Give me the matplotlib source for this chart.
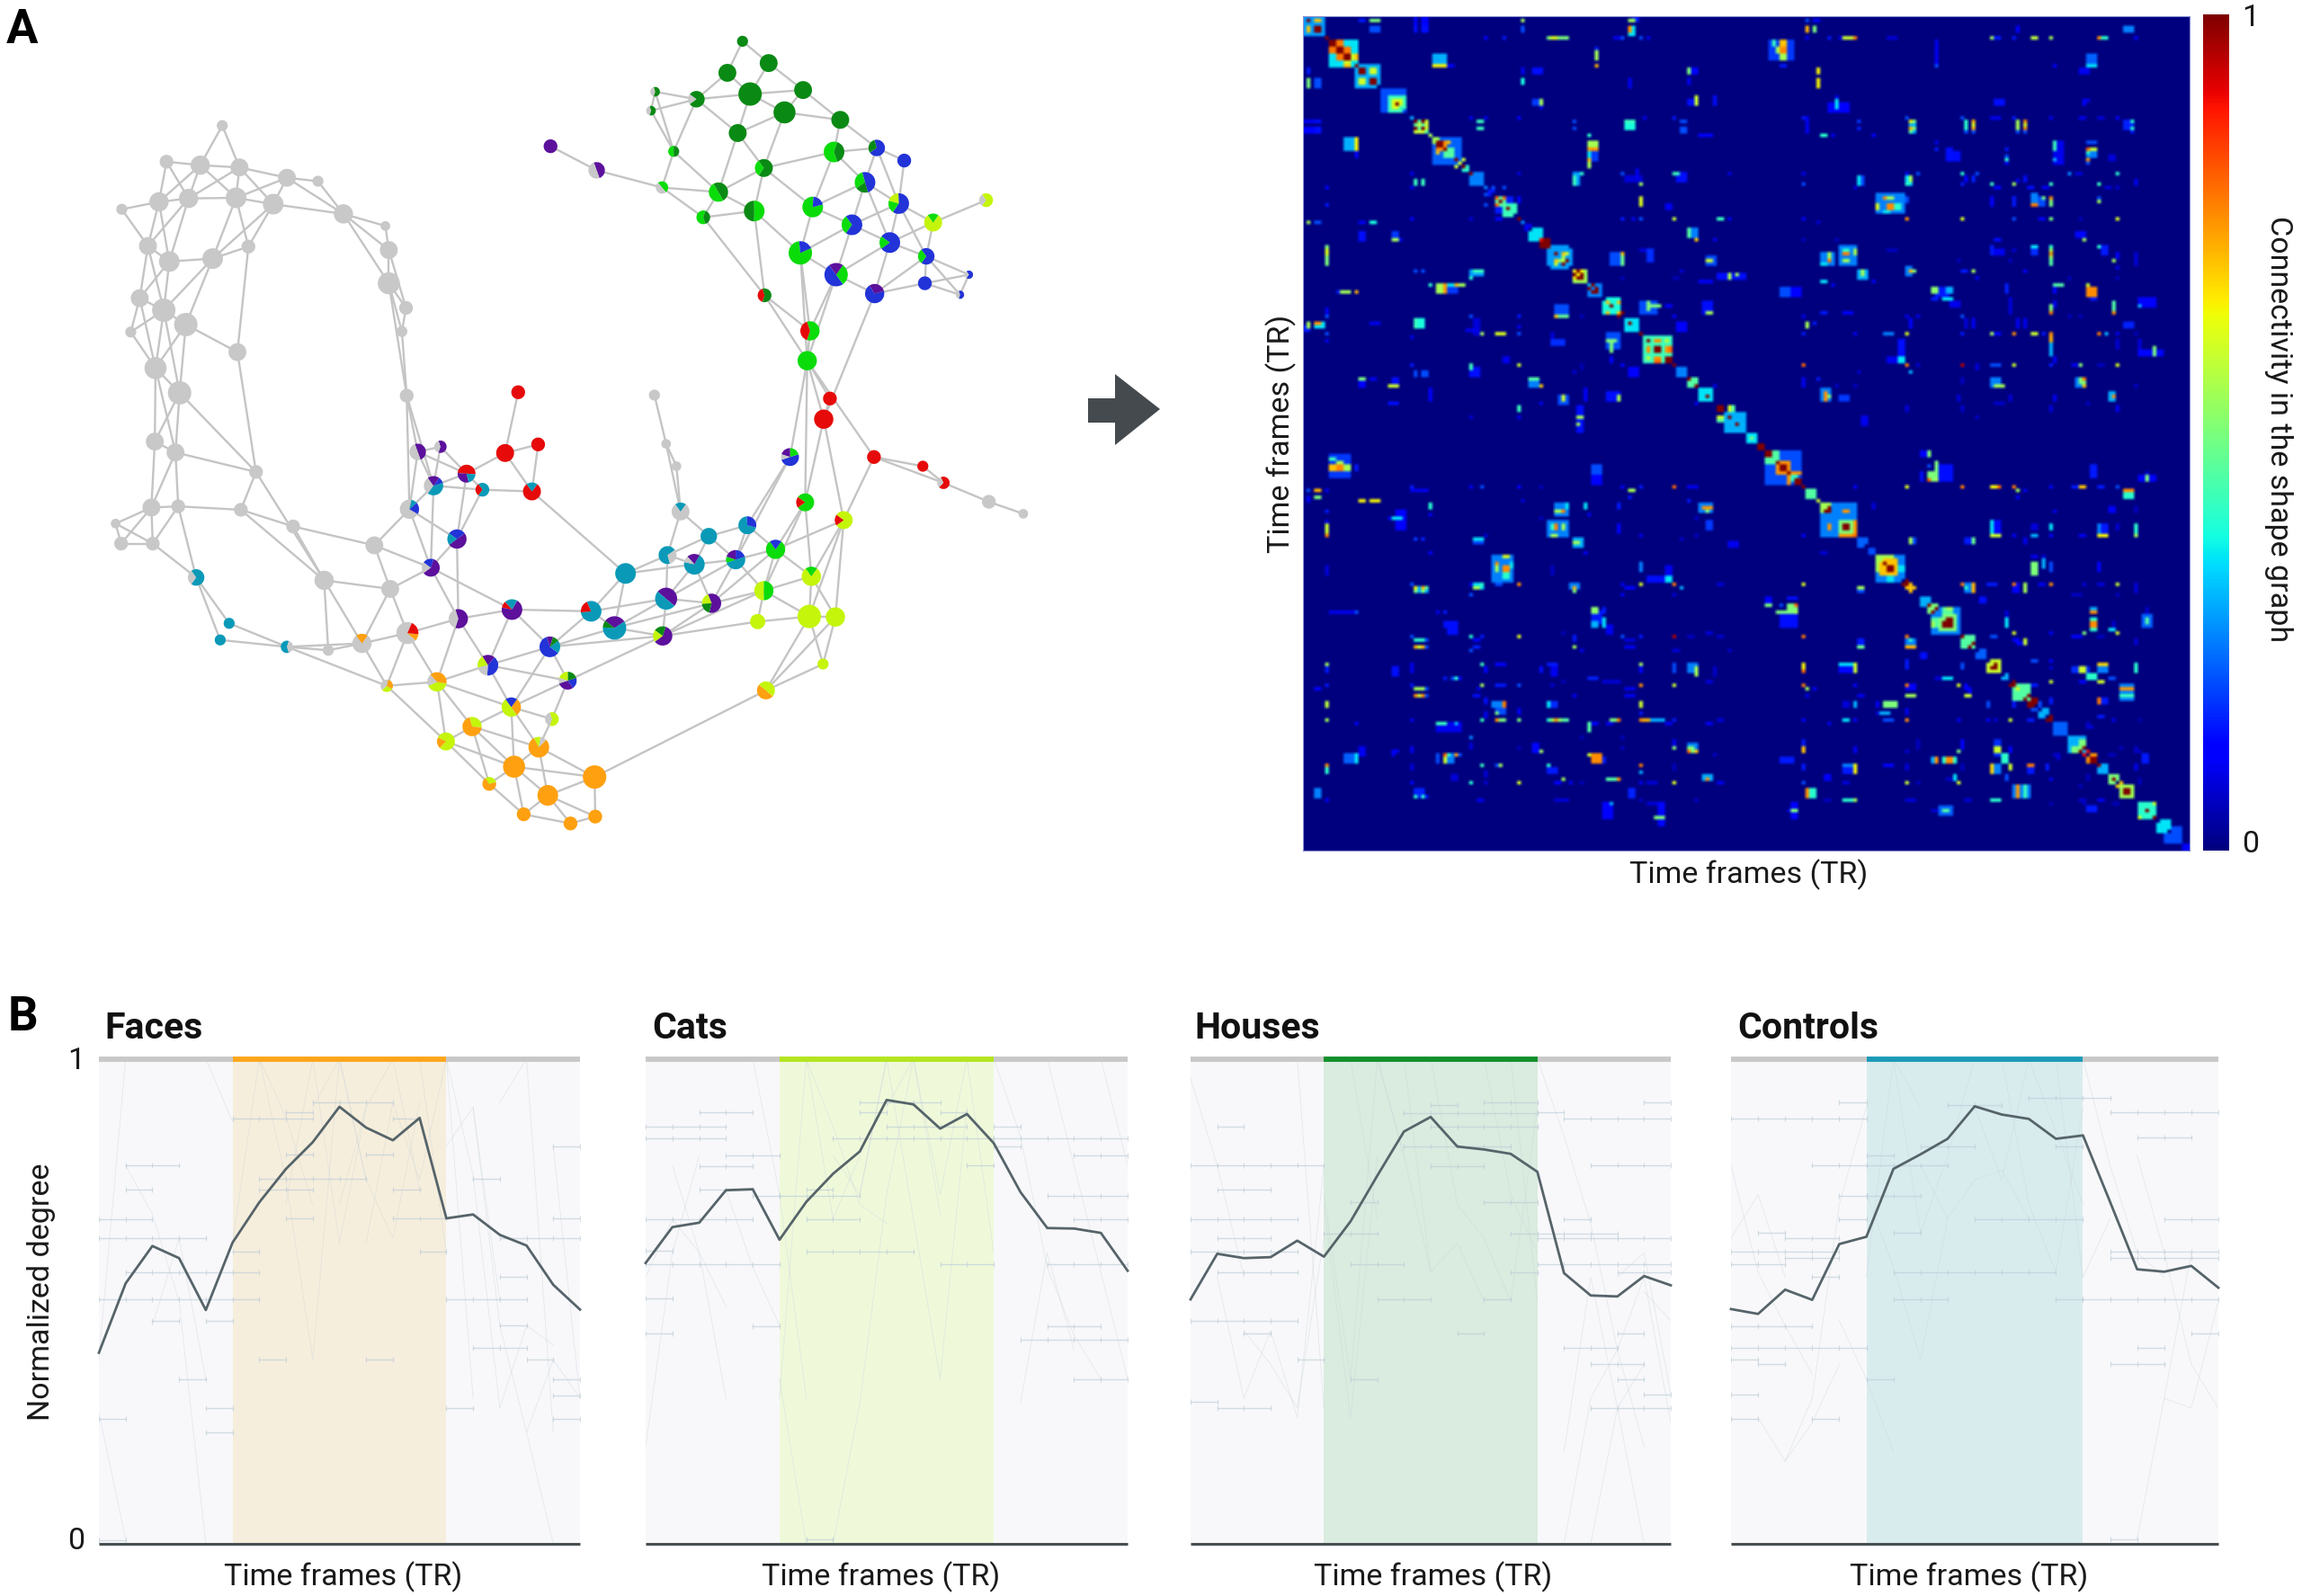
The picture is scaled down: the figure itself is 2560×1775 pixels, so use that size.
import numpy as np
import matplotlib
matplotlib.use('Agg')
import matplotlib.pyplot as plt
from matplotlib.patches import Wedge, Polygon

plt.rcParams['font.family'] = ['Roboto', 'DejaVu Sans']
W, H = 2560, 1775

# ---- shape graph, positions as read in the 1200x1000 crop
node_x = [323,242,291,348,417,462,177,231,274,343,
          397,499,560,215,246,309,361,565,565,203,
          238,270,190,590,584,345,226,261,591,225,
          255,372,220,259,350,168,176,222,426,544,
          471,567,477,285,333,320,417,526,592,562,
          607,640,630,678,701,734,753,782,773,595,
          664,626,666,744,709,799,825,635,743,802,
          686,648,783,747,864,711,796,761,829,865,
          859,893,909,963,968,970,1009,1034,1030,1069,
          1086,989,983,968,951,1127,1110,1179,1101,1176,
          1214,1196,1113,1226,1170,1148,1197,1206,1173,1177,
          1111,1270,1341,1371,1437,1487,1079,1117,1057,1090,
          1167,1140,1012,952,946,1072,1221,979,1212,1274,
          1314,1110,1044,962,867,800,1257,1306,1356,1433,
          1022,1096,1181,1238,1293,1163,1215,1271,1346,1344,
          1408,1395]
node_y = [219,282,288,292,310,316,365,352,346,345,
          356,373,394,429,456,451,430,436,494,520,
          541,566,579,537,578,614,642,685,690,770,
          789,823,885,883,889,913,948,948,918,951,
          1012,1027,1134,1007,1087,1116,1128,1122,1104,1196,
          788,779,847,826,854,790,684,775,857,888,
          940,990,1079,1063,1160,1128,1187,1189,1233,1254,
          1267,1293,1303,1337,1355,1367,1387,1420,1436,1424,
          1066,1095,1000,1109,1044,968,984,1052,935,976,
          916,892,813,774,689,958,1030,1005,1084,1075,
          1076,1158,1204,907,876,797,731,695,629,577,
          515,797,813,842,875,896,72,110,127,164,
          157,196,173,160,193,232,209,264,265,258,
          280,293,335,327,297,255,318,355,388,349,
          379,368,361,392,423,441,479,512,447,494,
          479,514]
node_r = [8,10,14,13,13,8,8,14,14,15,
          15,14,7,13,15,15,10,13,16,13,
          17,17,8,10,8,13,16,17,10,13,
          13,10,13,10,10,7,10,10,10,13,
          14,13,8,12,8,8,9,14,16,9,
          12,9,14,13,10,13,10,10,13,14,
          14,13,14,15,15,15,13,14,14,10,
          14,13,15,16,17,10,15,10,10,10,
          15,17,15,14,16,13,15,14,12,14,
          13,13,7,7,8,14,14,14,11,17,
          14,8,13,13,13,13,14,10,14,14,
          10,10,8,9,10,7,8,13,13,17,
          13,16,12,7,7,13,13,8,15,12,
          10,13,14,9,12,10,15,15,13,10,
          10,15,15,15,15,17,17,14,12,10,
          6,6]
node_pie = ['g9'] * 43 + [
    't7 g3','t9','t9','t6 g4','g8 o2','g7 o1 r2','y3 o3 g4',
    'p5 g5','p6 g4','g3 t4 b1 p2','r5 p3 t2','t7 r3','r9','r9','r9','r8 t2','g7 b2 t1',
    'p5 b3 t2','p6 b2 g2','p6 g4','p7 t2 r1','b4 p2 y2 g2','b6 t2 D1 p1','p3 b2 D2 y2 g1','y4 o4 g2','y5 o3 b2','y6 g4',
    'o7 y3','y8 o2','o8 g1 y1','o9','o9','o7 y3','o9','o9','o9','o9',
    't8 r2','t6 p3 D1','t9','p6 D2 y2','t5 p5','t7 g3','t7 p2 g1','p6 y2 D2','t9','t5 b2 p2 L1',
    't7 b3','g8 t2','g9','g9','g9','L8 b2','y5 L5','y8 L2','y9','y9',
    'y9','y9','o5 y5','y8 r2','L8 r2','b5 L2 p2 g1','r9','r9','L9','L6 r4',
    'D6 r4','r9','r9','r7 g3','g9','g9','D9','D9','D9','D9',
    'D9','D9','D8 g2','D6 g4','D6 g4','D9','D9','L5 D5','L6 D4','b7 D3',
    'b9','D7 L3','L5 D5','L5 g5','p5 g5','p9','b5 L3 D2','b6 y2 L2','y8 L2','y7 g3',
    'L6 D4','D5 L5','L8 b2','b7 L3','b8 L2','L8 b2','b5 L3 p2','b7 p3','b7 L3','b9',
    'b7 g3','b6 g4']
# where the last slice of a mixed node points, degrees, up is 90
pie_face = {43:180,46:0,47:90,48:30,49:150,50:200,51:180,53:320,54:180,58:90,59:60,60:180,61:180,62:180,63:150,
    64:230,65:90,66:180,67:170,68:90,69:180,70:50,71:190,72:100,75:70,80:150,81:160,83:180,84:50,85:340,86:150,87:220,
    89:180,90:40,91:90,95:90,96:0,97:90,102:50,103:180,104:180,105:180,109:180,110:180,113:170,122:180,123:180,124:180,
    127:0,128:0,129:160,131:180,132:30,133:220,134:200,136:250,137:200,138:90,139:180,140:0,141:0,142:50,143:180,144:180,
    145:60,146:90,147:70,148:180,150:180,151:180}
pie_colors = {'g':'#c8c8c8','D':'#0a8a14','L':'#0adc0a','b':'#2233d8','p':'#5c109c',
              'r':'#e60a0a','t':'#0a9ab8','o':'#ffa010','y':'#c4f50a'}

edges_gray = [(0,2),(0,3),(1,2),(1,7),(1,8),(2,3),(2,7),(2,8),(2,9),(3,4),(3,8),(3,9),(3,10),(4,5),(4,9),(4,10),
    (5,11),(4,11),(6,7),(6,13),(7,8),(7,13),(7,14),(8,9),(8,13),(8,14),(9,10),(9,15),(9,16),(10,11),(10,16),(10,15),
    (11,12),(11,17),(11,18),(12,17),(13,14),(13,19),(13,20),(14,15),(14,19),(14,20),(15,16),(15,20),(15,21),(16,25),
    (17,18),(17,23),(18,23),(18,24),(19,20),(19,22),(19,26),(20,21),(20,22),(20,26),(20,27),(21,25),(21,26),(21,27),
    (22,26),(23,24),(24,28),(18,28),(25,31),(26,27),(26,29),(26,30),(27,29),(27,30),(27,31),(29,30),(29,32),(30,32),
    (30,33),(30,31),(31,34),(31,40),(32,33),(32,35),(32,36),(32,37),(33,34),(33,37),(33,43),(34,38),(34,40),(35,36),
    (35,37),(36,37),(37,43),(38,39),(38,40),(39,41),(39,59),(40,41),(40,42),(40,47),(41,47),(41,48),(41,61),(39,61),
    (28,50),(28,59),(28,52),(43,44),(43,45),(44,46),(45,46),(46,42),(46,47),(46,49),(42,47),(47,48),(47,49),(48,62),
    (48,67),(48,49),(49,67),(49,71)]
edges_purple = [(50,51),(50,52),(50,53),(51,53),(51,52),(50,59),(52,53),(52,54),(52,59),(52,61),(53,54),(53,55),(53,60),
    (54,58),(55,56),(55,57),(55,58),(57,58),(54,60),(58,82),(59,60),(59,61),(60,61),(60,62),(61,62),(61,63),(62,63),
    (62,64),(63,64),(63,65),(63,80),(64,65),(64,67),(64,68),(64,66),(65,66),(65,68),(65,80),(65,81),(65,83),(62,67),
    (66,83),(66,68),(66,69),(67,68),(67,70),(67,71),(68,70),(68,69),(68,73),(68,72),(69,72),(70,71),(70,72),(70,73),
    (70,75),(71,75),(71,73),(72,73),(72,74),(72,76),(73,74),(73,75),(73,76),(73,77),(74,76),(74,79),(74,102),(75,77),
    (76,77),(76,78),(76,79),(77,78),(78,79)]
edges_teal = [(80,81),(80,82),(80,84),(81,82),(81,84),(81,83),(81,87),(82,85),(82,86),(83,84),(83,87),(84,86),(84,87),
    (84,85),(85,86),(85,88),(85,91),(86,87),(86,88),(86,89),(87,89),(87,96),(87,95),(88,90),(88,89),(88,91),(89,90),
    (89,95),(89,96),(90,95),(90,105),(91,92),(92,93),(93,94),(91,93),(83,98),(83,96),(84,89),(89,105),(95,96),(95,97),
    (95,104),(95,103),(96,97),(96,98),(96,99),(96,104),(97,99),(97,100),(97,103),(98,99),(99,100),(99,101),(99,102),
    (100,101),(100,102),(100,103),(101,102),(99,103),(97,104),(104,106),(103,106),(103,111),(105,108),(106,108),
    (106,107),(104,108),(147,106),(107,108),(108,109),(108,110),(108,145),(109,110),(109,145),(109,146),(108,146),
    (110,140),(110,141),(108,111),(111,112),(111,113),(112,113),(113,114),(114,115)]
edges_green = [(116,117),(116,118),(117,119),(117,120),(118,119),(118,122),(119,120),(119,121),(119,122),(119,125),
    (120,121),(120,126),(121,125),(121,126),(121,131),(122,123),(122,124),(122,125),(122,127),(123,124),(123,127),
    (124,127),(125,131),(125,132),(126,128),(126,129),(127,133),(127,132),(128,129),(128,131),(128,136),(128,142),
    (129,130),(129,136),(129,137),(130,137),(131,132),(131,141),(131,142),(132,133),(132,140),(132,141),(133,134),
    (133,140),(134,135),(136,137),(136,142),(136,143),(136,144),(137,138),(137,143),(137,144),(137,148),(138,139),
    (138,144),(138,148),(140,141),(141,145),(142,143),(142,145),(143,144),(143,145),(143,146),(144,146),(144,147),
    (144,148),(145,146),(146,147),(147,148),(147,149),(148,149),(148,150),(148,151),(149,150),(149,151),(150,151)]

# ---- connectivity matrix, (x, y, w, h, value) as read in 3x crops, upper triangle only
N_TR = 240
hm_tl = [(46,46,72,68,.28),(32,30,12,12,1),(63,58,24,24,1),(32,58,12,24,.7),(63,30,24,12,.7),(94,87,12,12,1),
    (148,138,96,92,.35),(112,103,24,24,1),(136,127,24,24,1),(160,150,24,24,1),(136,103,24,24,.78),(112,127,24,24,.78),
    (160,127,24,24,.75),(136,150,24,24,.78),(184,150,12,24,.6),(160,175,24,12,.7),(190,180,10,10,1),(208,195,24,24,1),
    (235,212,72,72,.3),(246,195,24,24,.6),(208,230,24,24,.6),(246,230,24,24,1),
    (315,298,85,85,.2),(325,308,50,50,.42),(325,308,24,24,.62),(325,305,12,12,1),(378,358,10,10,.3),
    (405,380,50,46,.45),(388,362,12,12,1),(412,362,12,12,1),(388,385,12,12,1),(412,385,12,12,1),(400,374,12,12,.6),
    (400,396,12,12,.6),(388,398,12,12,.6),(412,398,12,12,.6),(435,408,12,12,.55),
    (490,465,100,100,.22),(468,437,24,24,1),(490,437,22,12,.7),(455,425,24,10,.55),(468,460,24,12,.75),(484,453,12,12,1),
    (505,470,24,24,.45),(521,490,12,12,1),(545,513,12,12,1),(533,502,12,12,.6),(521,513,12,12,.6),(545,490,12,12,.6),
    (550,525,24,10,.4),(569,535,12,12,1),(598,555,30,40,.25),(618,580,10,10,.25),(638,598,20,20,.15),(650,580,10,10,.2),
    (680,580,10,10,.2),(669,628,40,36,.45),(657,616,12,12,.8),(680,616,12,12,.8),(669,628,12,12,1),(657,640,12,12,.8),
    (692,652,12,12,1),(705,660,36,36,.42),(690,640,60,60,.15),(728,685,12,12,1),(742,697,10,10,.25),(760,713,20,20,.12),
    (790,742,36,36,.35),(802,755,12,12,.9),(820,772,24,24,1),(870,818,70,70,.28),(862,812,12,12,1),(886,812,12,12,.7),
    (875,824,12,12,.55),(886,836,12,12,1),(862,836,12,12,.6),(932,877,48,46,.55),(932,877,36,36,.65),(925,870,12,12,1),
    (937,882,12,12,1),(962,905,10,10,.3),(975,915,10,10,1),(992,932,48,44,.25),(992,932,24,24,1),
    (1048,985,60,58,.38),(1047,985,12,12,1),(1030,968,12,12,.7),(1065,968,12,12,.7),(1030,1002,12,12,.7),(1065,1002,12,12,.7),
    (1072,1008,10,10,1),(1113,1042,48,46,.35),(1107,1041,12,12,1),(1143,1076,10,10,1),
    (1200,1128,100,92,.42),(1198,1128,24,24,1),(1168,1098,12,12,1),(1238,1162,24,24,1),(1168,1160,12,12,.6),
    (1198,1098,24,12,.75),(1198,1162,24,12,.8),(1168,1128,12,12,.75),(1238,1128,24,24,.75),(1253,1180,12,12,1),(1275,1198,30,30,.25),
    (1315,1238,36,36,.45),(1303,1226,12,12,1),(1327,1250,12,12,1),(1360,1280,48,46,.35),(1366,1282,12,12,1),
    (1408,1322,24,24,1),(1408,1350,24,12,.6),(1436,1326,24,24,.45),(1455,1370,72,60,.3),(1437,1350,12,12,1),(1462,1374,12,12,1),
    # off diagonal
    (250,28,34,12,.5),(252,57,36,22,.2),(210,28,24,6,.15),(388,30,12,30,.12),(418,30,24,30,.12),(388,60,12,30,.14),(418,60,24,30,.14),
    (740,30,10,16,.55),(740,57,10,24,.2),(1107,28,24,12,.55),(1107,60,30,34,.35),(1107,60,12,24,.75),(1120,20,30,20,.15),
    (620,87,12,12,.12),(680,87,12,12,.15),(865,87,70,12,.5),(850,87,30,12,.62),(890,87,24,12,.22),(1055,87,24,6,.1),(1073,87,12,12,.2),
    (1145,87,12,12,.2),(1170,87,12,6,.1),(467,155,48,40,.3),(467,178,48,12,.65),(510,178,24,6,.12),(992,150,24,36,.55),(992,125,24,24,.15),
    (992,178,24,12,.72),(740,195,8,24,.1),(740,232,12,24,.38),(790,195,36,24,.14),(1107,235,10,30,.1),(1303,195,12,24,.5),(1320,195,24,24,.12),
    (1303,230,8,24,.1),(790,298,36,24,.18),(802,298,12,24,.55),(802,320,8,12,.1),(1328,298,12,36,.6),(1303,300,24,24,.14),(1390,300,14,36,.14),
    (600,362,24,12,.42),(600,385,24,12,.42),(575,350,10,6,.1),(620,350,10,6,.1),(728,350,12,10,.12),(920,362,20,12,.2),(920,385,20,12,.2),
    (1108,362,36,12,.42),(1108,385,36,24,.38),(1145,350,10,10,.1),(1255,350,12,12,.15),(1280,362,20,12,.2),(1280,390,20,24,.2),(962,408,12,12,.4),
    (985,440,36,24,.55),(985,455,36,12,.75),(972,470,12,24,.35),(985,480,36,30,.18),(972,490,12,12,.72),(972,510,12,24,.55),(1355,408,48,6,.12),
    (1083,535,12,12,.2),(1115,555,50,30,.08),(1130,540,12,30,.1),(922,555,24,50,.28),(922,558,12,36,.42),(948,535,12,12,.4),(1260,535,24,12,.42),
    (1275,555,30,36,.14),(730,535,12,8,.08),(1437,535,12,6,.08),(1145,580,12,12,.55),(1145,628,12,36,.62),(730,625,10,30,.12),(1237,655,24,24,.1),
    (1083,685,12,12,.15),(1108,695,10,10,.1),(1145,685,12,12,.2),(1255,685,12,12,.6),(1408,685,24,12,.42),(1440,685,10,6,.1),(1315,742,36,36,.25),
    (1303,742,12,36,.45),(1327,755,12,12,.7),(1390,755,10,10,.1),(1055,822,36,50,.2),(1072,822,12,50,.48),(1072,812,6,12,.7),(1165,812,24,36,.17),
    (1150,790,24,8,.08),(1370,830,40,40,.2),(1370,832,24,12,.6),(1275,865,20,20,.08),(1440,878,90,24,.14),(1437,880,12,24,.55),(1462,880,12,12,.55),
    (1260,890,24,6,.05),(1360,902,48,6,.12),(1072,890,8,8,.06),(1165,985,72,48,.2),(1168,985,12,36,.5),(1188,985,48,12,.5),(1237,985,24,12,.12),
    (1365,990,36,48,.14),(1365,1007,24,12,.55),(1255,1020,12,12,.12),(1278,1050,36,36,.12),(1388,1250,10,10,.1)]
hm_tr = [(208,30,10,12,.2),(208,57,12,24,.72),(233,57,12,24,.5),(240,28,24,12,.12),(205,86,8,8,.1),(283,86,12,10,.15),(345,86,48,10,.6),
    (368,86,10,10,.78),(318,86,10,6,.1),(490,86,36,6,.08),(125,125,85,70,.18),(100,105,12,24,.42),(125,105,24,24,.7),(130,127,24,24,.76),
    (130,150,24,24,.55),(110,127,12,24,.55),(130,175,24,12,.15),(637,135,8,75,.1),(637,178,12,12,.2),(905,60,8,30,.12),(820,86,12,12,.55),
    (845,86,24,8,.15),(895,86,12,10,.15),(962,86,24,10,.58),(1028,86,12,12,.55),(1188,86,12,12,.76),(1205,86,24,10,.4),(1280,60,30,30,.25),
    (1310,86,12,12,.12),(1162,160,36,36,.22),(1162,178,36,10,.35),(1130,195,36,24,.1),(1040,178,12,12,.12),(246,195,12,24,.65),(246,233,12,36,.65),
    (308,312,12,36,.35),(312,315,70,36,.12),(308,290,8,12,.1),(845,300,36,24,.14),(1138,300,12,24,.12),(1138,290,6,8,.1),(197,350,12,12,.15),
    (208,378,12,48,.1),(380,362,20,12,.18),(380,385,20,12,.16),(557,380,24,46,.3),(552,362,12,12,.65),(552,385,12,12,.72),(565,362,12,12,.5),
    (565,385,12,12,.5),(540,350,12,12,.2),(552,398,12,10,.45),(722,350,12,12,.2),(737,373,12,36,.4),(760,373,12,36,.6),(760,362,12,12,.72),
    (760,385,12,12,.72),(737,398,12,10,.2),(760,398,12,10,.2),(833,350,36,8,.1),(895,350,12,12,.15),(907,373,12,36,.55),(942,373,12,36,.6),
    (942,362,12,12,.76),(942,385,12,12,.76),(907,398,12,10,.2),(942,398,12,10,.2),(1017,350,12,12,.1),(1132,350,24,8,.1),(1195,350,24,6,.08),
    (1250,350,12,12,.12),(1278,373,36,36,.16),(1297,362,12,12,.4),(1297,385,12,12,.4),(1297,398,12,10,.15),(265,408,24,12,.4),(290,408,12,6,.1),
    (428,408,12,12,.12),(637,455,12,10,.15),(680,455,24,12,.14),(692,482,48,24,.14),(637,440,6,12,.1),(875,455,12,12,.15),(875,488,24,24,.2),
    (875,488,24,10,.4),(875,510,24,12,.12),(1040,445,12,40,.42),(1040,490,12,12,.3),(1050,470,36,80,.1),(1150,455,12,12,.8),(1165,455,30,12,.6),
    (1162,480,36,24,.25),(1150,470,12,12,.4),(1150,490,12,12,.75),(1150,510,12,12,.2),(1162,435,36,18,.2),(1232,483,24,24,.08),
    (197,535,12,12,.1),(722,535,12,12,.4),(772,535,12,12,.2),(1088,535,12,12,.25),(1120,535,24,6,.08),(1248,535,12,12,.4),(575,535,12,12,.2),
    (540,535,12,8,.1),(388,558,36,36,.2),(380,558,12,36,.35),(553,558,24,36,.35),(550,558,12,24,.55),(737,560,12,24,.12),(760,560,12,24,.16),
    (905,560,6,16,.1),(942,560,12,24,.14),(1300,565,8,24,.1),(197,580,12,12,.2),(540,580,12,12,.4),(722,580,12,12,.15),(820,580,12,12,.42),
    (845,580,24,6,.12),(895,580,12,12,.55),(960,580,24,8,.14),(1017,580,12,12,.42),(1000,580,24,6,.1),(1188,580,12,12,.42),(1210,580,24,6,.08),
    (1248,580,10,8,.08),(368,580,8,8,.08),(485,642,96,68,.25),(480,620,36,12,.55),(465,617,12,10,.76),(483,645,24,24,.76),(442,650,12,12,.62),
    (480,665,24,12,.35),(510,650,24,12,.4),(540,617,12,12,.2),(540,638,12,12,.2),(820,628,10,36,.12),(895,628,10,36,.15),(962,625,24,36,.25),
    (962,638,24,10,.78),(993,628,24,36,.2),(993,617,12,12,.5),(1017,628,12,36,.5),(1017,615,12,10,.76),(1188,617,10,12,.2),(1188,638,12,12,.55),
    (197,685,12,12,.12),(246,697,10,10,.08),(540,685,12,12,.76),(722,685,12,12,.62),(895,685,12,12,.2),(995,685,24,8,.1),(1017,685,12,12,.5),
    (1125,685,10,8,.06),(1248,685,12,12,.62),(197,755,10,10,.06),(308,755,10,10,.06),(845,755,30,8,.14),(1125,742,36,24,.13),(1138,755,12,12,.55),
    (490,788,36,6,.06),(280,825,48,48,.25),(283,815,12,24,.55),(283,835,24,12,.78),(265,845,24,12,.35),(345,815,60,70,.25),(338,810,24,12,.78),
    (338,835,24,12,.55),(338,795,24,12,.4),(368,800,12,24,.55),(392,875,36,36,.3),(392,872,12,24,.55),(265,903,24,12,.35),(290,903,12,6,.1),
    (428,903,12,12,.12),(553,868,24,36,.25),(553,868,12,12,.72),(565,868,12,12,.5),(760,868,12,12,.55),(737,868,24,10,.15),(772,885,12,12,.1),
    (722,860,6,12,.08),(712,833,6,8,.06),(820,800,12,36,.15),(845,805,36,24,.1),(895,788,8,8,.08),(882,833,8,8,.06),(942,868,12,12,.12),
    (962,788,24,12,.35),(962,805,24,24,.17),(1028,788,12,12,.4),(1028,810,12,36,.55),(1028,810,12,12,.75),(1028,833,12,24,.45),(1188,788,12,12,.4),
    (1205,800,24,36,.15),(1237,835,12,12,.55),(1237,815,6,24,.12),(1237,850,8,8,.1),(1308,822,8,50,.08),(1088,890,8,8,.06),(1248,890,8,8,.06),
    (155,935,72,36,.12),(135,935,36,30,.2),(637,932,24,24,.52),(660,935,60,30,.15),(680,932,24,24,.3),(680,960,36,12,.35),(700,975,36,30,.1),
    (637,955,24,12,.15),(875,925,12,36,.16),(880,985,8,60,.08),(905,1040,8,36,.1),(942,1040,12,36,.1),(722,1018,12,12,.2),(737,1040,10,36,.08),
    (760,1040,12,36,.1),(1028,970,8,24,.1),(1028,995,12,36,.5),(1028,1005,12,12,.78),(1050,915,36,12,.45),(1040,932,12,24,.12),(1160,930,36,36,.76),
    (1150,925,12,36,.6),(1165,955,30,12,.15),(1237,990,12,50,.45),(1237,1005,12,12,.76),(1237,965,12,12,.25),(1340,970,60,36,.12),(1322,985,12,12,.3),
    (1285,1040,36,24,.16),(265,1007,24,12,.15),(345,1007,48,8,.12),(197,1018,10,10,.1),(208,1040,12,24,.55),(233,1040,12,12,.15),(553,1040,12,36,.12),
    (540,1018,12,8,.1),(575,1018,12,8,.1),(197,1077,12,12,.15),(368,1077,10,10,.1),(480,1077,36,10,.25),(540,1077,12,12,.62),(722,1077,12,12,.15),
    (820,1077,12,12,.55),(845,1077,24,8,.12),(895,1077,12,12,.76),(962,1077,24,12,.6),(995,1077,12,8,.15),(1017,1077,12,12,.76),(1028,1095,12,24,.72),
    (1028,1125,12,36,.3),(1188,1077,12,12,.78),(1210,1077,12,8,.3),(1248,1077,10,8,.1),(1088,1018,8,8,.06),(1125,1018,8,8,.06),(1310,1077,8,8,.06),
    (520,1125,24,72,.14),(520,1160,24,24,.35),(490,1160,36,24,.1),(1237,1112,8,36,.08),(1322,1112,8,36,.08),(1355,1135,80,30,.13),(1370,1132,12,36,.5),
    (197,1180,12,12,.8),(540,1180,12,12,.78),(553,1203,12,12,.3),(578,1180,8,12,.08),(722,1180,14,14,.95),(772,1185,6,16,.08),(833,1180,36,10,.2),
    (895,1180,12,12,.6),(1017,1180,12,12,.15),(1028,1160,6,16,.1),(1090,1180,8,12,.1),(1125,1180,12,12,.52),(1105,1180,36,6,.1),(1195,1180,24,6,.06),
    (1248,1180,12,12,.62),(380,1195,10,10,.07),(197,1235,8,36,.1),(245,1225,10,10,.15),(840,1235,36,36,.25),(845,1248,36,8,.55),(1125,1235,36,36,.25),
    (1130,1235,24,24,.5),(1138,1225,12,12,.78),(1138,1248,12,12,.7),(308,1248,8,8,.07),(368,1248,8,8,.07),(275,1280,36,48,.25),(270,1282,12,24,.75),
    (280,1285,24,12,.5),(335,1288,36,24,.18),(710,1285,6,24,.08),(722,1232,8,24,.06),(880,1285,8,24,.08),(1028,1290,8,24,.1),(1232,1282,24,36,.3),
    (1237,1282,12,12,.76),(845,1305,36,6,.07),(1138,1305,8,8,.07),(1310,1248,8,8,.07),(540,1322,12,24,.08),(722,1322,10,24,.07),(1017,1322,8,24,.08),
    (1248,1322,12,24,.1),(398,1360,30,36,.1),(772,1352,10,10,.07)]
hm_br = [(22,22,30,30,.35),(22,22,12,12,.5),(57,50,24,24,1),(80,73,24,24,1),(130,120,120,114,.2),(105,85,24,36,.45),(130,120,36,36,.75),(130,120,24,24,1),
    (112,103,12,12,1),(148,138,12,12,1),(178,168,24,24,1),(152,160,24,24,.4),(145,160,12,36,.75),(197,185,12,12,1),(222,208,36,36,.45),(245,230,10,10,.6),
    (270,258,36,36,.55),(275,262,24,12,1),(320,295,110,110,.25),(337,315,48,48,.5),(337,315,24,24,1),(283,315,12,24,.75),(337,265,24,10,.7),(365,320,12,36,.75),
    (337,345,36,10,.75),(368,345,10,10,.8),(392,365,36,30,.22),(428,400,24,24,.2),(485,453,96,90,.25),(483,453,48,48,.7),(483,453,24,24,1),(465,437,12,12,1),
    (445,440,24,48,.55),(480,420,36,24,.55),(520,453,24,24,.35),(483,490,24,24,.3),(543,507,18,18,1),(557,522,12,24,.7),(600,565,36,36,.3),(613,575,12,12,1),
    (630,590,24,24,.5),(637,597,12,12,1),(670,635,96,96,.25),(680,638,48,48,.5),(680,638,24,24,1),(632,638,24,24,.45),(680,597,24,12,.55),(722,680,12,12,1),
    (748,702,36,36,.45),(760,712,12,12,1),(792,742,30,30,.22),(838,788,48,48,.6),(838,788,24,24,1),(875,822,24,24,.3),(895,840,12,12,1),(905,850,12,12,1),
    (925,870,48,48,.45),(912,855,12,12,.62),(945,885,12,12,1),(962,902,24,24,1),(962,925,24,12,.2),(995,945,24,24,.3),(1017,960,24,12,1),(1028,968,12,12,1),
    (1058,995,48,48,.22),(1110,1045,54,60,.3),(1110,1060,36,30,.5),(1128,1058,12,12,1),(1140,1070,12,12,.9),(1165,1095,36,36,.75),(1168,1095,24,24,1),
    (1188,1115,12,12,1),(1200,1125,36,36,.3),(1232,1160,24,24,.5),(1238,1163,12,12,1),(1250,1175,10,10,.7),(1278,1203,48,48,.55),(1278,1203,24,24,1),
    (1345,1265,60,60,.4),(1345,1265,12,12,1),(1370,1290,12,12,1),(1320,1290,12,12,.6),(1400,1315,36,36,.35),(1445,1340,24,24,.2),(1430,1355,70,40,.2),(1473,1385,24,24,.12),
    # off diagonal
    (600,75,24,24,.12),(612,75,12,24,.5),(612,120,12,12,.2),(637,125,12,48,.5),(670,140,60,60,.14),(625,150,36,36,.5),(612,168,12,12,.8),(637,168,12,12,.55),
    (590,150,12,36,.14),(1168,130,24,48,.15),(1345,160,60,24,.12),(1345,160,12,24,.5),(1345,140,6,20,.08),(368,185,12,12,.12),(540,185,12,12,.62),(722,185,12,12,.78),
    (838,185,48,12,.65),(850,185,12,12,.8),(895,185,12,12,.78),(907,197,12,12,.55),(907,218,12,12,.12),(940,197,8,8,.1),(1017,185,12,12,.12),(1110,185,48,10,.15),
    (1130,185,24,12,.7),(1195,185,24,10,.15),(1248,185,12,12,.2),(1278,208,36,36,.4),(1278,197,36,12,.76),(428,248,8,24,.08),(1028,262,10,10,.1),(1232,258,24,24,.12),
    (1308,265,6,24,.06),(838,320,48,48,.13),(838,345,48,10,.6),(820,320,12,48,.35),(895,345,12,12,.12),(962,320,24,24,.08),(962,345,24,10,.3),(1028,320,12,24,.35),
    (1028,345,12,12,.12),(1200,320,36,36,.15),(1200,345,36,10,.65),(1188,320,12,36,.25),(1237,315,6,24,.08),(1308,320,12,36,.4),(1308,345,12,12,.55),(1132,345,24,8,.1),
    (557,365,24,24,.2),(557,362,12,24,.55),(748,362,36,24,.15),(760,362,12,24,.48),(942,362,12,24,.1),(962,455,24,48,.5),(962,420,24,12,.1),(992,440,12,36,.3),
    (992,420,8,12,.08),(1017,450,12,36,.2),(1188,455,10,36,.12),(722,507,12,12,.78),(748,522,36,24,.25),(760,522,12,24,.72),(735,522,12,12,.4),(820,507,36,10,.15),
    (895,507,12,12,.78),(910,522,24,24,.12),(942,522,12,24,.55),(1017,507,12,12,.76),(995,507,24,6,.1),(1130,507,12,8,.08),(1195,507,24,8,.08),(1248,507,12,12,.6),
    (1298,522,6,24,.08),(1105,542,36,6,.06),(1248,542,8,8,.06),(792,558,30,24,.14),(870,610,6,36,.08),(870,640,12,36,.35),(1165,597,36,24,.3),(1165,597,36,10,.76),
    (1165,640,36,48,.4),(1165,640,24,24,.76),(1232,660,24,12,.35),(1232,640,8,24,.07),(1345,635,36,48,.22),(1345,632,12,24,.45),(1340,595,8,24,.07),(832,678,36,10,.2),
    (895,678,12,12,.62),(910,690,24,10,.12),(942,700,12,24,.6),(915,712,24,10,.12),(1017,678,12,12,.12),(1105,678,36,10,.12),(1128,678,12,12,.5),(1195,678,24,6,.06),
    (1248,678,12,12,.62),(1298,700,8,24,.08),(962,770,24,10,.2),(1017,770,12,12,.12),(1017,790,8,12,.08),(1120,790,60,24,.17),(1132,790,24,24,.6),(1190,772,36,10,.68),
    (1200,790,36,36,.25),(1308,790,12,36,.4),(1160,818,36,12,.4),(1132,840,24,10,.12),(1195,840,24,10,.6),(1232,828,24,12,.2),(1280,870,48,48,.25),(1280,855,48,12,.75),
    (1280,885,48,12,.42),(962,840,24,8,.15),(1017,840,12,12,.6),(1017,902,12,24,.15),(1188,902,12,24,.78),(1205,902,24,24,.15),(1190,955,24,12,.15),(1238,965,12,12,.1),
    (1150,978,12,12,.07),(1320,965,12,6,.05),(1045,1080,12,24,.08),(1250,1055,8,8,.06),(1310,1065,6,12,.06),(1342,1095,24,36,.15),(1230,1080,24,8,.06),(1320,1160,8,8,.05),
    (1195,1232,24,8,.1),(1130,1232,24,8,.07),(1165,1260,36,24,.14),(1237,1240,8,8,.06)]

# ---- panel B
panel_names = ['Faces', 'Cats', 'Houses', 'Controls']
panel_colors = ['#ffa61a', '#b4e61e', '#10902a', '#1a9ab8']
panel_tints = ['#f6eedc', '#eff9da', '#d9ecdf', '#d8ecee']
faces_degree = [.394,.537,.614,.589,.482,.621,.704,.773,.828,.901,.858,.832,.878,.671,.679,.637,.615,.534,.483]
cats_degree = [.579,.653,.662,.729,.731,.627,.705,.763,.809,.915,.906,.856,.886,.826,.725,.651,.650,.641,.563]
houses_degree = [.504,.598,.589,.591,.625,.592,.665,.759,.850,.880,.819,.813,.804,.767,.558,.512,.510,.552,.533]
controls_degree = [.484,.474,.524,.503,.618,.633,.773,.803,.835,.902,.885,.876,.835,.842,.705,.566,.561,.573,.528]

# (value, first frame, last frame) of the pale flat stretches
faces_steps = [(.78,1,3),(.73,1,2),(.67,0,2),(.63,0,4),(.56,1,6),(.505,0,6),(.46,2,3),(.46,4,5),(.34,3,4),(.28,4,5),(.257,0,1),(.23,4,5),(.008,0,1),
    (.877,5,8),(.911,8,11),(.89,7,8),(.877,11,12),(.803,7,8),(.803,10,11),(.753,6,10),(.73,6,8),(.73,11,12),(.671,7,8),(.671,11,13),(.603,5,6),(.603,12,13),(.38,6,7),(.38,10,11),
    (.505,13,16),(.753,14,15),(.63,15,18),(.671,17,18),(.82,17,18),(.55,15,16),(.45,15,16),(.405,14,16),(.38,16,17),(.34,17,18),(.306,17,18),(.257,17,18),(.28,13,14)]
cats_steps = [(.86,0,3),(.836,0,3),(.89,2,4),(.80,3,5),(.778,2,4),(.73,2,4),(.717,4,5),(.67,0,4),(.605,0,1),(.576,0,5),(.506,0,1),(.449,4,5),(.434,0,1),
    (.91,8,11),(.89,8,9),(.86,9,12),(.836,7,13),(.89,11,12),(.78,12,13),(.73,6,7),(.717,5,8),(.67,6,8),(.603,6,10),(.576,11,13),(.01,6,7),
    (.86,13,14),(.82,13,14),(.836,13,18),(.80,16,18),(.717,15,18),(.67,16,18),(.576,15,18),(.449,15,17),(.42,14,18),(.34,16,18)]
houses_steps = [(.86,1,2),(.78,0,5),(.73,1,3),(.67,0,4),(.63,1,3),(.603,0,4),(.56,1,4),(.46,0,4),(.434,2,3),(.38,4,5),(.292,0,1),(.279,1,3),
    (.64,5,7),(.704,6,7),(.576,6,8),(.504,7,9),(.504,11,12),(.339,6,7),(.888,8,13),(.91,11,13),(.904,9,10),(.86,9,13),(.82,8,12),(.778,9,11),(.704,11,13),(.64,12,16),(.56,12,13),(.434,10,11),
    (.89,13,14),(.876,14,18),(.91,17,18),(.78,15,18),(.67,14,15),(.63,13,18),(.576,13,18),(.56,16,18),(.434,16,17),(.404,14,16),(.37,15,17),(.339,16,17),(.307,17,18),(.279,15,18)]
controls_steps = [(.91,4,5),(.876,0,5),(.78,3,5),(.717,4,5),(.67,4,5),(.641,1,2),(.63,2,4),(.603,0,4),(.59,2,4),(.576,0,2),(.55,3,4),(.449,0,3),(.404,0,5),(.38,0,1),(.37,1,2),(.307,0,1),(.257,0,1),(.257,3,4),
    (.78,5,8),(.80,5,6),(.82,7,9),(.904,8,10),(.919,11,14),(.717,5,7),(.67,9,13),(.641,6,7),(.56,6,12),(.504,6,8),(.504,12,13),(.82,12,13),(.34,5,6),
    (.89,14,18),(.837,15,17),(.67,16,18),(.603,14,18),(.59,14,18),(.504,13,18),(.434,17,18),(.404,15,16),(.37,14,16),(.01,14,15)]

# (first frame, values) of the faint zigzags behind
faces_faint = [(0,[.38,1.0]),(0,[.27,.01]),(1,[.78,.68,.5,.0]),(2,[.45,.63,.34]),(4,[1.0,.87]),(5,[.62,1.0,.88,.70]),(6,[1.0,.75,.38,1.0,.75]),(7,[.7,1.0,.62,.9]),
    (8,[.9,1.0,.75,.63,.91]),(9,[.7,.9,1.0,.73]),(10,[.62,.91,.75,1.0,.3]),(12,[1.0,.60]),(13,[1.0,.76,.28]),(13,[.82,.9,.5]),(14,[.9,.45,.23,.0]),(15,[.91,1.0,.23]),(15,[.28,.45,.41]),(16,[.23,.38,.3]),(17,[.82,.3])]
cats_faint = [(0,[.55,.67,.60,.49]),(0,[.2,.6,.8]),(1,[.78,.60,.3]),(3,[.73,.57,.45]),(4,[1.0,.72,.30]),(5,[.3,1.0,.67,.8]),(5,[.34,.0]),(7,[.0,.29,.72,1.0]),(6,[1.0,.86,.70,.66]),
    (7,[.8,.72,1.0]),(8,[.72,1.0,.67,.34,.9]),(9,[.9,1.0,.68]),(10,[1.0,.72,1.0]),(12,[1.0,.60]),(13,[1.0,.84,.57,.43,.34]),(14,[.29,.60,.40]),(15,[1.0,.78,.56,.34]),(17,[1.0,.78,.23])]
houses_faint = [(0,[.96,.78,.55]),(1,[.55,.3,.44,.26,.78]),(2,[.44,.37,.28,.63]),(4,[1.0,.28]),(5,[.7,.26,.8]),(5,[.72,.34,1.0,.8]),(6,[1.0,.67]),(7,[1.0,.8,.56]),(8,[1.0,.56,.62,.5]),
    (9,[1.0,.7,.63,.5,.9]),(11,[1.0,.72,.6]),(12,[1.0,.5]),(13,[1.0,.84,.66,.40,.2]),(14,[.19,.55,.28,.0]),(14,[.0,.3,.4,.55,.25]),(15,[.0,.28,.37]),(16,[.55,.6,.31]),(17,[.52,.46])]
controls_faint = [(0,[.78,.56,.45,.35]),(0,[.63,.72,.55]),(1,[.26,.17,.3]),(2,[.17,.25,.37]),(3,[.3,.7,.9]),(4,[.46,.34,.19]),(5,[.55,1.0,.9]),(5,[.72,.57,.38,.67]),(6,[1.0,.64,.8,1.0]),
    (7,[.78,.67,.75,.77,.67]),(9,[.9,.75,1.0]),(10,[1.0,.7,.56,.9]),(11,[1.0,.85,.7]),(12,[1.0,.55,.67]),(13,[1.0,.78,.6,.55]),(15,[.01,.3,.6]),(15,[.8,.6,.37,.28,.45]),(16,[.3,.28,.5])]


def px_axes(left, top, right, bottom):
    return fig.add_axes([left / W, 1 - bottom / H, (right - left) / W, (bottom - top) / H])

def px_text(x, y, s, **kw):
    kw.setdefault('ha', 'center')
    kw.setdefault('va', 'center')
    kw.setdefault('color', '#1a1a1a')
    kw.setdefault('fontsize', 24.5)
    fig.text(x / W, 1 - y / H, s, **kw)


fig = plt.figure(figsize=(W / 100, H / 100), dpi=100, facecolor='white')

# A left: graph
ax = px_axes(0, 0, 1200, 1000)
ax.set_xlim(0, 1200)
ax.set_ylim(1000, 0)
ax.axis('off')
gx = np.array(node_x) / 1.3067
gy = np.array(node_y) / 1.568
gr = np.array(node_r) / 1.3067
for a, b in edges_gray + edges_purple + edges_teal + edges_green:
    ax.plot([gx[a], gx[b]], [gy[a], gy[b]], color='#c4c4c4', lw=1.7, zorder=1, solid_capstyle='round')
for n, (x, y, r, pie) in enumerate(zip(gx, gy, gr, node_pie)):
    parts = [(p[0], float(p[1:])) for p in pie.split()]
    total = sum(w for _, w in parts)
    # y axis is flipped, so angles run the other way on screen
    last_sweep = 360.0 * parts[-1][1] / total
    angle = -pie_face.get(n, 90) + 360 - last_sweep / 2
    for key, w in parts:
        sweep = 360.0 * w / total
        ax.add_patch(Wedge((x, y), r, angle - sweep, angle, fc=pie_colors[key], ec='none', zorder=2))
        angle -= sweep

# A middle: arrow
ax_arrow = px_axes(0, 0, W, H)
ax_arrow.set_xlim(0, W)
ax_arrow.set_ylim(H, 0)
ax_arrow.axis('off')
ax_arrow.patch.set_alpha(0)
ax_arrow.add_patch(Polygon([(1210, 443), (1240, 443), (1240, 416), (1290, 455), (1240, 495), (1240, 470), (1210, 470)],
                           fc='#454a4e', ec='none'))

# A right: matrix
matrix = np.zeros((N_TR, N_TR))
cw, ch = 986 / N_TR, 928 / N_TR
for rects, ox, oy in [(hm_tl, 1445, 14), (hm_tr, 1940, 14), (hm_br, 1940, 480)]:
    for x, y, w, h, v in rects:
        c0 = int(round((x / 3 - w / 6 + ox - 1449) / cw))
        c1 = max(c0 + 1, int(round((x / 3 + w / 6 + ox - 1449) / cw)))
        r0 = int(round((y / 3 - h / 6 + oy - 18) / ch))
        r1 = max(r0 + 1, int(round((y / 3 + h / 6 + oy - 18) / ch)))
        matrix[r0:r1, c0:c1] = np.maximum(matrix[r0:r1, c0:c1], v)
matrix = np.maximum(matrix, matrix.T)
ax_m = px_axes(1449, 18, 2435, 946)
ax_m.imshow(matrix, cmap='jet', vmin=0, vmax=1, aspect='auto',
            interpolation='bilinear', interpolation_stage='rgba')
ax_m.set_xticks([])
ax_m.set_yticks([])
for s in ax_m.spines.values():
    s.set_color('#8a8fd0')
    s.set_linewidth(0.8)

ax_c = px_axes(2450, 16, 2479, 946)
ax_c.imshow(np.linspace(1, 0, 256)[:, None], cmap='jet', aspect='auto')
ax_c.set_xticks([])
ax_c.set_yticks([])
for s in ax_c.spines.values():
    s.set_visible(False)

px_text(2503, 20, '1')
px_text(2503, 939, '0')
px_text(2534, 477, 'Connectivity in the shape graph', rotation=270)
px_text(1945, 973, 'Time frames (TR)')
px_text(1425, 482, 'Time frames (TR)', rotation=90)

# B
panel_degree = [faces_degree, cats_degree, houses_degree, controls_degree]
panel_steps = [faces_steps, cats_steps, houses_steps, controls_steps]
panel_faint = [faces_faint, cats_faint, houses_faint, controls_faint]
panel_left = [110, 718, 1324, 1925]
panel_right = [645, 1254, 1858, 2467]
title_x = [116, 725, 1328, 1932]
label_x = [382, 980, 1594, 2190]
on_frame, off_frame = 5, 13
frames = np.arange(19)

for i in range(4):
    axb = px_axes(panel_left[i], 1177.5, panel_right[i], 1717)
    axb.set_xlim(0, 18)
    axb.set_ylim(0, 1)
    axb.axis('off')
    axb.axvspan(0, 18, color='#f8f8fa', lw=0, zorder=0)
    axb.axvspan(on_frame, off_frame, color=panel_tints[i], lw=0, zorder=1)
    for start, vals in panel_faint[i]:
        axb.plot(start + np.arange(len(vals)), vals, color='#ccd5db', lw=0.7, alpha=0.4, zorder=2)
    for v, f0, f1 in panel_steps[i]:
        axb.plot(np.arange(f0, f1 + 1), [v] * (f1 - f0 + 1), color='#bfcdd8', lw=1.0, alpha=0.65,
                 marker='|', ms=5, mew=0.8, zorder=3)
    axb.plot(frames, panel_degree[i], color='#56646a', lw=2.0, zorder=4, solid_joinstyle='round', clip_on=False)
    axb.plot([0, 18], [1, 1], color='#c8c8c8', lw=4.2, zorder=5, clip_on=False, solid_capstyle='butt')
    axb.plot([on_frame, off_frame], [1, 1], color=panel_colors[i], lw=4.2, zorder=6, clip_on=False, solid_capstyle='butt')
    axb.plot([0, 18], [0, 0], color='#484e52', lw=2.2, zorder=6, clip_on=False, solid_capstyle='butt')
    px_text(title_x[i], 1144, panel_names[i], ha='left', fontweight='bold', color='#111111', fontsize=29.5)
    px_text(label_x[i], 1754, 'Time frames (TR)')

px_text(85, 1180, '1')
px_text(85, 1714, '0')
px_text(46, 1437, 'Normalized degree', rotation=90)
px_text(25, 33, 'A', fontweight='bold', fontsize=38, color='#000000')
px_text(25, 1131, 'B', fontweight='bold', fontsize=38, color='#000000')

fig.savefig('out.png', dpi=100)
